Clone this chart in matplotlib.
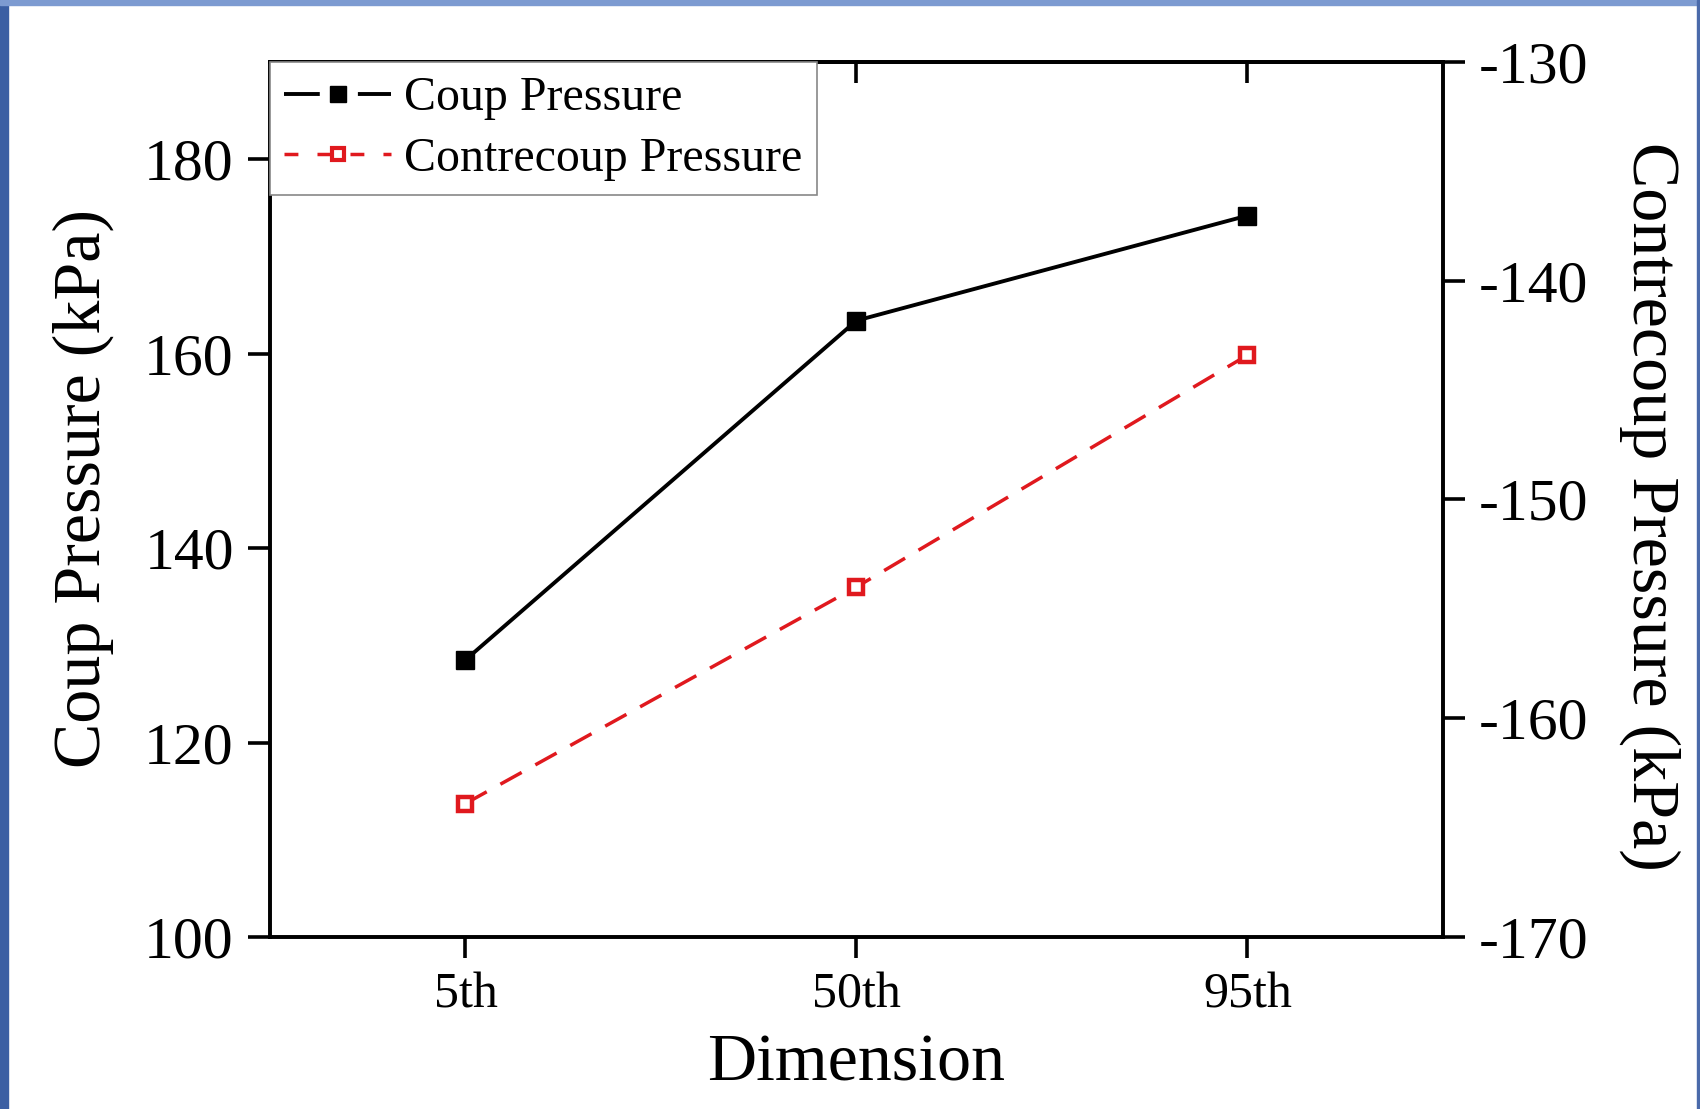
import matplotlib
matplotlib.use("Agg")
import matplotlib.pyplot as plt
from matplotlib.patches import Rectangle
from matplotlib.lines import Line2D

dimensions = ["5th", "50th", "95th"]
coup = [128.5, 163.4, 174.2]
contrecoup = [-163.9, -154.0, -143.4]
left_ticks = [100, 120, 140, 160, 180]
right_ticks = [-170, -160, -150, -140, -130]

plt.rcParams.update({
    "font.family": "Liberation Serif",
    "axes.linewidth": 2.6,
    "xtick.major.width": 2.6,
    "ytick.major.width": 2.6,
    "axes.unicode_minus": False,
})

RED = "#e0191e"

fig = plt.figure(figsize=(17, 11.09), dpi=100)
fig.patch.set_facecolor("white")

# blue slide frame around the picture
fig.patches.append(Rectangle((0, 0), 0.0047, 1, transform=fig.transFigure,
                             color="#3b5fa3", zorder=-1))
fig.patches.append(Rectangle((0, 0.9955), 1, 0.0045, transform=fig.transFigure,
                             color="#7d9bd1", zorder=-1))
fig.patches.append(Rectangle((0.9985, 0), 0.0015, 1, transform=fig.transFigure,
                             color="#4a6aaa", zorder=-1))

ax = fig.add_axes([0.1588, 0.1551, 0.690, 0.789])
ax2 = ax.twinx()

x = list(range(len(dimensions)))
ax.plot(x, coup, color="black", lw=2.8, marker="s", ms=13,
        markerfacecolor="black", markeredgecolor="black", zorder=3)
ax2.plot(x, contrecoup, color=RED, lw=2.5, ls=(0, (7, 4.5)), marker="s",
         ms=9.5, markerfacecolor="white", markeredgecolor=RED, mew=3.2, zorder=3)

ax.set_xlim(-0.5, 2.5)
ax.set_ylim(100, 190)
ax2.set_ylim(-170, -130)
ax.set_xticks(x)
ax.set_xticklabels(dimensions)
ax.set_yticks(left_ticks)
ax2.set_yticks(right_ticks)

ax.tick_params(axis="x", direction="out", length=15, pad=10, labelsize=36)
ax.tick_params(axis="y", direction="out", length=16, pad=10, labelsize=43)
ax2.tick_params(axis="y", direction="out", length=16, pad=10, labelsize=43)
ax.minorticks_off()
ax2.minorticks_off()

# top ticks point inward, no labels
top = ax.secondary_xaxis("top")
top.set_xticks(x)
top.tick_params(axis="x", direction="in", length=15, width=2.6, labeltop=False)
top.spines["top"].set_linewidth(2.6)

ax.set_xlabel("Dimension", fontsize=49, labelpad=11)
ax.set_ylabel("Coup Pressure (kPa)", fontsize=49, labelpad=22)
ax.yaxis.label.set_y(0.513)
ax2.set_ylabel("Contrecoup Pressure (kPa)", fontsize=49, rotation=270,
               labelpad=66)
ax2.yaxis.label.set_y(0.492)

handles = [
    Line2D([], [], color="black", lw=2.8, ls=(0, (9.2, 9.8)), marker="s", ms=12),
    Line2D([], [], color=RED, lw=2.5, ls=(0, (4, 5.5)), marker="s", ms=9,
           markerfacecolor="white", markeredgecolor=RED, mew=3.0),
]
leg = ax2.legend(handles, ["Coup Pressure", "Contrecoup Pressure"],
                 loc="upper left", bbox_to_anchor=(0, 1), borderaxespad=0,
                 fontsize=34.5, fancybox=False, framealpha=1, edgecolor="#888888",
                 handlelength=2.23, handletextpad=0.27, borderpad=0.3,
                 labelspacing=0.34)
leg.get_frame().set_linewidth(1.2)

fig.savefig("out.png", dpi=100)
